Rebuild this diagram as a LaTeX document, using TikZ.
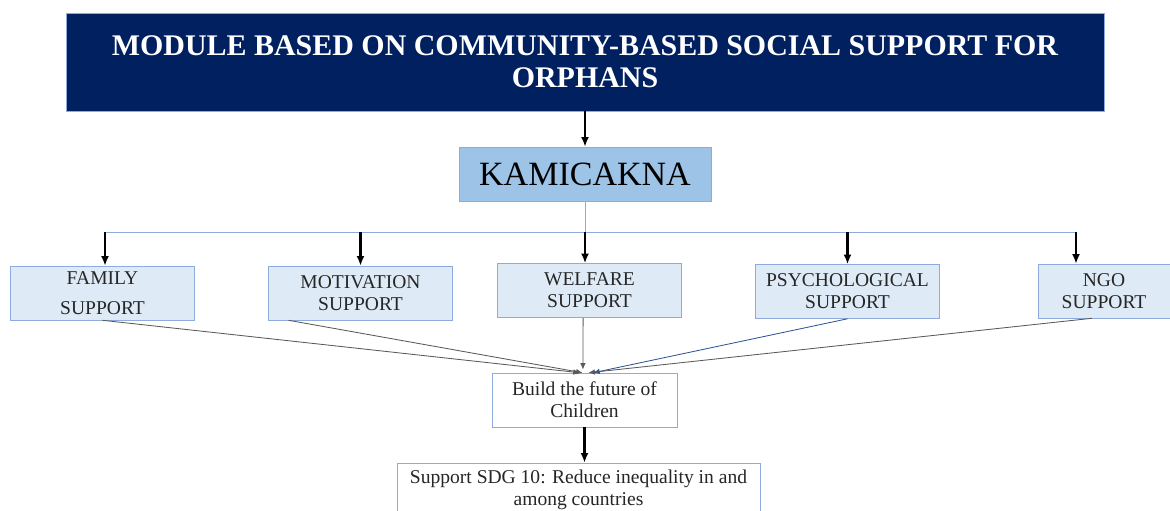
\documentclass[tikz,border=0pt]{standalone}
\usepackage{fontspec}
\setmainfont{Liberation Serif}
\usepackage{tikz}
\usetikzlibrary{
  arrows.meta,
  positioning,
  calc
}
\definecolor{navy}{RGB}{0,32,96}
\definecolor{skyblue}{RGB}{157,195,230}
\definecolor{paleblue}{RGB}{222,235,247}
\definecolor{edgeblue}{RGB}{143,170,220}
\definecolor{linkblue}{RGB}{47,85,151}

\begin{document}
\begin{tikzpicture}[
  titlebox/.style={
    draw=edgeblue,
    fill=navy,
    text=white,
    font=\fontsize{21.3pt}{22.8pt}\selectfont\bfseries,
    minimum width=25.95cm,
    minimum height=2.45cm,
    inner sep=0pt,
    align=center
  },
  headbox/.style={
    draw=edgeblue,
    fill=skyblue,
    font=\fontsize{24.2pt}{26pt}\selectfont,
    minimum width=6.3cm,
    minimum height=1.35cm,
    inner sep=0pt,
    align=center
  },
  supbox/.style={
    draw=edgeblue,
    fill=paleblue,
    text=black!85,
    font=\fontsize{13.9pt}{15.6pt}\selectfont,
    minimum width=4.6cm,
    minimum height=1.35cm,
    inner sep=0pt,
    align=center
  },
  outbox/.style={
    draw=edgeblue,
    fill=white,
    text=black!85,
    font=\fontsize{13.9pt}{15.6pt}\selectfont,
    minimum height=1.35cm,
    inner sep=0pt,
    align=center
  },
  downarrow/.style={
    -{Latex[length=2.4mm,width=2mm]},
    line width=1.5pt,
    black
  },
  busline/.style={
    line width=0.7pt,
    edgeblue
  },
  feedline/.style={
    -{Latex[length=1.6mm,width=1.4mm]},
    line width=0.6pt,
    black!65
  }
]
  \clip (0,0) rectangle (29.25,-12.75);

  % Title and module name
  \node[titlebox] (title) at (14.625,-1.55)
    {MODULE BASED ON COMMUNITY-BASED SOCIAL SUPPORT FOR\\ORPHANS};
  \node[headbox] (kam) at (14.625,-4.35) {KAMICAKNA};
  \draw[downarrow] (title.south) -- (kam.north);

  % Support boxes
  \node[supbox] (family) at (2.5625,-7.325) {FAMILY\\[6pt]SUPPORT};
  \node[supbox] (motiv) at (9.0125,-7.325) {MOTIVATION\\SUPPORT};
  \node[supbox] (welfare) at (14.7375,-7.2625) {WELFARE\\SUPPORT};
  \node[supbox] (psych) at (21.1875,-7.2875) {PSYCHOLOGICAL\\SUPPORT};
  \node[supbox, minimum width=3.3cm] (ngo) at (27.6,-7.275) {NGO\\SUPPORT};

  % Distribution bus
  \coordinate (busL) at (2.625,-5.8);
  \coordinate (busR) at (26.9,-5.8);
  \draw[busline] (kam.south) -- (kam.south |- busL);
  \draw[busline] (busL) -- (busR);
  \draw[downarrow] (busL) -- (busL |- family.north);
  \draw[downarrow] (motiv.north |- busL) -- (motiv.north);
  \draw[downarrow] (kam.south |- busL) -- (kam.south |- welfare.north);
  \draw[downarrow] (psych.north |- busL) -- (psych.north);
  \draw[downarrow] (busR) -- (busR |- ngo.north);

  % Outcome boxes
  \node[outbox, minimum width=4.625cm] (build) at (14.6125,-10.0)
    {Build the future of\\Children};
  \node[outbox, minimum width=9.075cm] (sdg) at (14.4625,-12.25)
    {Support SDG 10: Reduce inequality in and\\among countries};
  \draw[downarrow] (build.south) -- (build.south |- sdg.north);

  % Converging links
  \draw[feedline] (family.south) -- ([xshift=-0.12cm]build.north);
  \draw[feedline] ([xshift=-1.8cm]motiv.south) -- ([xshift=-0.05cm]build.north);
  \draw[feedline] ([xshift=-0.16cm]welfare.south) -- ([xshift=-0.04cm,yshift=0.08cm]build.north);
  \draw[feedline, linkblue] (psych.south) -- ([xshift=0.22cm]build.north);
  \draw[feedline] ([xshift=-0.3cm]ngo.south) -- ([xshift=0.1cm]build.north);
\end{tikzpicture}
\end{document}
